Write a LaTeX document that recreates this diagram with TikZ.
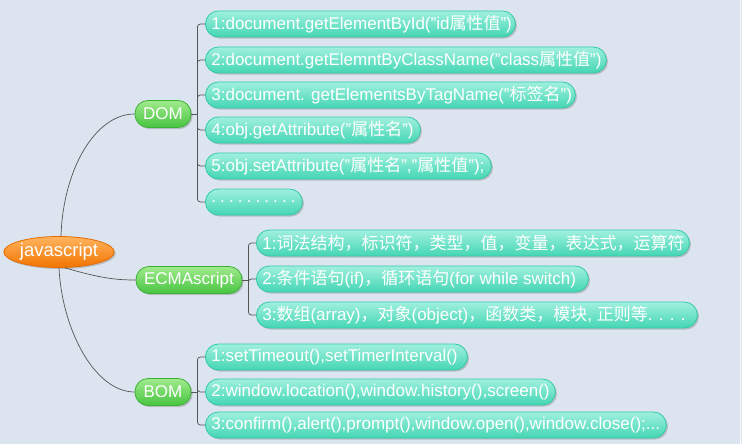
\documentclass[tikz,border=0pt]{standalone}
\usepackage{fontspec}
\setmainfont{Liberation Sans}
\newfontfamily\cjk{Noto Sans CJK SC}
\usetikzlibrary{shapes.geometric,shadows,calc}
\definecolor{bg}{RGB}{220,228,240}
\definecolor{tealT}{RGB}{160,240,222}
\definecolor{tealM}{RGB}{98,226,196}
\definecolor{tealB}{RGB}{68,214,180}
\definecolor{tealD}{RGB}{50,202,168}
\definecolor{grT}{RGB}{160,235,140}
\definecolor{grM}{RGB}{98,212,88}
\definecolor{grB}{RGB}{72,196,66}
\definecolor{grD}{RGB}{58,178,52}
\definecolor{orT}{RGB}{255,180,95}
\definecolor{orM}{RGB}{255,136,22}
\definecolor{orB}{RGB}{242,116,0}
\definecolor{orD}{RGB}{228,108,0}
\definecolor{lnc}{RGB}{85,85,85}
\newcommand\zh[1]{{\cjk #1}}
\newcommand\lb[2]{\makebox[#1pt][l]{#2}}
\newcommand\dt{.\hspace{4.1pt}}
\begin{document}
\begin{tikzpicture}[x=1pt,y=-1pt,
  shd/.style={drop shadow={shadow xshift=1.6pt,shadow yshift=-1.6pt,fill=black!45,opacity=0.45}},
  leaf/.style={anchor=west,rounded corners=13pt,minimum height=26pt,inner xsep=6pt,inner ysep=0pt,
    draw=tealD,line width=0.8pt,top color=tealT,middle color=tealM,bottom color=tealB,
    text=white,font=\fontsize{17}{17}\selectfont,shd},
  mid/.style={rounded corners=13pt,minimum height=27pt,inner xsep=7pt,inner ysep=0pt,
    draw=grD,line width=0.8pt,top color=grT,middle color=grM,bottom color=grB,
    text=white,font=\fontsize{17}{17}\selectfont,shd},
  rootn/.style={ellipse,minimum width=102pt,minimum height=31pt,inner sep=0pt,
    draw=orD,line width=0.8pt,top color=orT,middle color=orM,bottom color=orB,
    text=white,font=\fontsize{18.5}{18.5}\selectfont,shd},
  conn/.style={draw=lnc,line width=0.7pt}]
\useasboundingbox (0,0) rectangle (742,444);
\fill[bg] (0,0) rectangle (742,444);
\draw[white!70!bg,line width=1pt] (740.5,0) -- (740.5,444);
% nodes
\node[rootn] (root) at (59,252) {javascript};
\node[mid,minimum width=56pt] (dom) at (163,114) {DOM};
\node[mid,minimum width=106pt] (ecma) at (189,280) {ECMAscript};
\node[mid,minimum width=56pt] (bom) at (163,392) {BOM};
% DOM leaves
\node[leaf] (d1) at (205,24) {\lb{298}{1:document.getElementById("id\zh{属性值}")}};
\node[leaf] (d2) at (205,60) {\lb{389}{2:document.getElemntByClassName("class\zh{属性值}")}};
\node[leaf] (d3) at (205,95) {\lb{358}{3:document. getElementsByTagName("\zh{标签名}")}};
\node[leaf] (d4) at (205,130) {\lb{203}{4:obj.getAttribute("\zh{属性名}")}};
\node[leaf] (d5) at (205,166) {\lb{274}{5:obj.setAttribute("\zh{属性名}","\zh{属性值}");}};
\node[leaf] (d6) at (205,202) {\lb{85}{\dt\dt\dt\dt\dt\dt\dt\dt\dt.}};
% ECMAscript leaves
\node[leaf] (e1) at (256,243) {\lb{421}{1:\zh{词法结构，标识符，类型，值，变量，表达式，运算符}}};
\node[leaf] (e2) at (256,279) {\lb{320}{2:\zh{条件语句}(if)\zh{，循环语句}(for while switch)}};
\node[leaf] (e3) at (256,315) {\lb{429}{3:\zh{数组}(array)\zh{，对象}(object)\zh{，函数类，模块}, \zh{正则等}. . . .}};
% BOM leaves
\node[leaf] (b1) at (205,357) {\lb{250}{1:setTimeout(),setTimerInterval()}};
\node[leaf] (b2) at (205,392) {\lb{338}{2:window.location(),window.history(),screen()}};
\node[leaf] (b3) at (205,425) {\lb{449}{3:confirm(),alert(),prompt(),window.open(),window.close();...}};
% root connectors
\draw[conn] ($(root.north)+(2,0)$) .. controls (63,170) and (95,114) .. (dom.west);
\draw[conn] (root.-70) .. controls (100,278) and (115,280) .. (ecma.west);
\draw[conn] (root.south) .. controls (62,330) and (95,392) .. (bom.west);
% brackets
\coordinate (dj) at ($(dom.east)+(6,0)$);
\coordinate (ej) at ($(ecma.east)+(6,0)$);
\coordinate (bj) at ($(bom.east)+(6,0)$);
\draw[conn] (dom.east) -- (dj);
\draw[conn] (ecma.east) -- (ej);
\draw[conn] (bom.east) -- (bj);
\foreach \n in {d1,d2,d3,d4,d5,d6} \draw[conn,rounded corners=3pt] (dj) |- (\n.west);
\foreach \n in {e1,e2,e3} \draw[conn,rounded corners=3pt] (ej) |- (\n.west);
\foreach \n in {b1,b2,b3} \draw[conn,rounded corners=3pt] (bj) |- (\n.west);
\end{tikzpicture}
\end{document}
